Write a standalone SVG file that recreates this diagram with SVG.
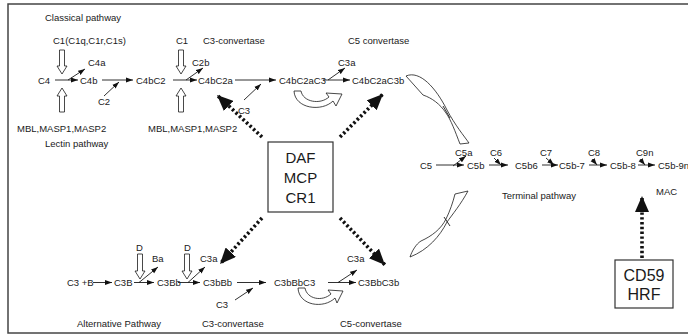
<svg xmlns="http://www.w3.org/2000/svg" width="688" height="336" viewBox="0 0 688 336">
<defs>
<marker id="ah" markerUnits="userSpaceOnUse" markerWidth="8" markerHeight="6" refX="7" refY="3" orient="auto"><path d="M0,0.5 L7,3 L0,5.5 Z" fill="#111"/></marker>
<marker id="big" markerUnits="userSpaceOnUse" markerWidth="18" markerHeight="14" refX="16" refY="7" orient="auto"><path d="M0,0 L16,7 L0,14 Z" fill="#111"/></marker>
<style>
text{font-family:"Liberation Sans",Arial,sans-serif;fill:#1a1a1a}
.s{font-size:9.5px}
.b{font-size:15px;text-anchor:middle}
.ln{stroke:#1a1a1a;stroke-width:0.9;fill:none}
.ar{stroke:#1a1a1a;stroke-width:0.9;fill:none;marker-end:url(#ah)}
.dot{stroke:#111;stroke-width:3.6;stroke-dasharray:2.4 2.4;fill:none;marker-end:url(#big)}
.hol{fill:#fff;stroke:#1a1a1a;stroke-width:0.8}
.box{fill:#fff;stroke:#333;stroke-width:1.2}
</style>
</defs>
<rect x="8" y="4" width="700" height="329" fill="#fff" stroke="#444" stroke-width="1.5"/>

<g id="labels">
<text class="s" x="45" y="20.5">Classical pathway</text>
<text class="s" x="53" y="43.5">C1(C1q,C1r,C1s)</text>
<text class="s" x="176" y="43.5">C1</text>
<text class="s" x="203" y="43.5">C3-convertase</text>
<text class="s" x="348" y="43.5">C5 convertase</text>
<text class="s" x="17" y="131.5">MBL,MASP1,MASP2</text>
<text class="s" x="148" y="131.5">MBL,MASP1,MASP2</text>
<text class="s" x="45" y="146.5">Lectin pathway</text>
<text class="s" x="502" y="199">Terminal pathway</text>
<text class="s" x="656" y="195">MAC</text>
<text class="s" x="77" y="327">Alternative Pathway</text>
<text class="s" x="202" y="327">C3-convertase</text>
<text class="s" x="340" y="327">C5-convertase</text>
</g>

<g id="classical">
<text class="s" x="38" y="83.5">C4</text>
<text class="s" x="88" y="66">C4a</text>
<text class="s" x="80" y="83.5">C4b</text>
<text class="s" x="98" y="105">C2</text>
<text class="s" x="136" y="83.5">C4bC2</text>
<text class="s" x="192" y="66">C2b</text>
<text class="s" x="198" y="83.5">C4bC2a</text>
<text class="s" x="238" y="114">C3</text>
<text class="s" x="279" y="83.5">C4bC2aC3</text>
<text class="s" x="338" y="66">C3a</text>
<text class="s" x="352" y="83.5">C4bC2aC3b</text>
</g>

<g id="terminal">
<text class="s" x="420" y="169">C5</text>
<text class="s" x="455" y="156">C5a</text>
<text class="s" x="467" y="169">C5b</text>
<text class="s" x="490" y="156">C6</text>
<text class="s" x="515" y="169">C5b6</text>
<text class="s" x="540" y="156">C7</text>
<text class="s" x="559" y="169">C5b-7</text>
<text class="s" x="588" y="156">C8</text>
<text class="s" x="610" y="169">C5b-8</text>
<text class="s" x="636" y="156">C9n</text>
<text class="s" x="658" y="169">C5b-9n</text>
</g>

<g id="alternative">
<text class="s" x="67" y="286">C3 +B</text>
<text class="s" x="114" y="286">C3B</text>
<text class="s" x="136" y="251">D</text>
<text class="s" x="152" y="262">Ba</text>
<text class="s" x="157" y="286">C3Bb</text>
<text class="s" x="184" y="251">D</text>
<text class="s" x="200" y="262">C3a</text>
<text class="s" x="203" y="286">C3bBb</text>
<text class="s" x="216" y="308">C3</text>
<text class="s" x="274" y="286">C3bBbC3</text>
<text class="s" x="347" y="262">C3a</text>
<text class="s" x="358" y="286">C3BbC3b</text>
</g>

<g id="inhib1">
<rect class="box" x="268" y="142" width="65" height="70"/>
<text class="b" x="300.5" y="162.5">DAF</text>
<text class="b" x="300.5" y="182.5">MCP</text>
<text class="b" x="300.5" y="202.5">CR1</text>
</g>
<g id="inhib2">
<rect class="box" x="615" y="260" width="58" height="48"/>
<text class="b" x="644" y="281" style="font-size:16px">CD59</text>
<text class="b" x="644" y="300" style="font-size:16px">HRF</text>
</g>

<g id="connectors">
<!-- hollow arrows -->
<path class="hol" d="M59.5,50 L64.5,50 L64.5,66 L67,66 L62,74 L57,66 L59.5,66 Z"/>
<path class="hol" d="M178.5,50 L183.5,50 L183.5,66 L186,66 L181,74 L176,66 L178.5,66 Z"/>
<path class="hol" d="M59.5,112 L64.5,112 L64.5,96 L67,96 L62,88 L57,96 L59.5,96 Z"/>
<path class="hol" d="M178.5,112 L183.5,112 L183.5,96 L186,96 L181,88 L176,96 L178.5,96 Z"/>
<path class="hol" d="M137.5,254 L142.5,254 L142.5,271 L145,271 L140,279 L135,271 L137.5,271 Z"/>
<path class="hol" d="M184.5,254 L189.5,254 L189.5,271 L192,271 L187,279 L182,271 L184.5,271 Z"/>
<!-- classical row -->
<path class="ar" d="M55,80 L78,80"/>
<path class="ar" d="M68,80 L85,69"/>
<path class="ar" d="M102,80 L133,80"/>
<path class="ar" d="M104,96 L119,82"/>
<path class="ar" d="M173,80 L197,80"/>
<path class="ar" d="M186,80 L203,68"/>
<path class="ar" d="M235,80 L276,80"/>
<path class="ar" d="M244,100 L261,84"/>
<path class="ar" d="M323,80 L350,80"/>
<path class="ar" d="M328,80 L345,68"/>
<!-- terminal row -->
<path class="ar" d="M436,165 L464,165"/>
<path class="ar" d="M453,166 L466,156"/>
<path class="ar" d="M489,165 L508,165"/>
<path class="ar" d="M494,158 L501,165"/>
<path class="ar" d="M542,165 L558,165"/>
<path class="ar" d="M546,158 L554,165"/>
<path class="ar" d="M589,165 L607,165"/>
<path class="ar" d="M592,159 L597,165"/>
<path class="ar" d="M638,165 L655,165"/>
<path class="ar" d="M640,159 L645,165"/>
<!-- alternative row -->
<path class="ar" d="M93,282.5 L112,282.5"/>
<path class="ar" d="M134,282.5 L154,282.5"/>
<path class="ar" d="M139,282.5 L158,267"/>
<path class="ar" d="M178,282.5 L200,282.5"/>
<path class="ar" d="M188,282.5 L205,267"/>
<path class="ar" d="M237,282.5 L266,282.5"/>
<path class="ar" d="M235,300 L253,288"/>
<path class="ar" d="M328,282.5 L356,282.5"/>
<path class="ar" d="M338,282.5 L357,270"/>
<!-- curved hollow arrows -->
<path class="hol" d="M294,91 L301,91 C303,102 320,105 329,97 L326,93 L342,94 L336,106 L333,101 C322,112 295,109 294,91 Z"/>
<path class="hol" d="M298,288 L305,288 C307,299 322,302 331,294 L328,290 L343,291 L337,303 L335,298 C324,309 299,306 298,288 Z"/>
<!-- swoops -->
<path class="hol" d="M406,76 C420,70 436,88 447,110 C455,125 464,136 469,143 L460,144 C455,131 451,120 446,113 C440,104 432,98 423,95 Z"/>
<path class="ln" d="M443,106 L450,118"/>
<path class="hol" d="M455,194 L468,191 C461,204 452,215 447,222 C440,236 428,250 410,257 C412,251 416,244 421,241 C432,236 441,229 446,219 C450,211 453,202 455,194 Z"/>
<path class="ln" d="M444,217 L450,226"/>
<!-- dotted inhibition arrows -->
<path class="dot" d="M262,137 L217,95"/>
<path class="dot" d="M340,137 L383,94"/>
<path class="dot" d="M262,218 L220,264"/>
<path class="dot" d="M340,218 L385,265"/>
<path class="dot" d="M642,258 L642,196"/>
</g>
</svg>
